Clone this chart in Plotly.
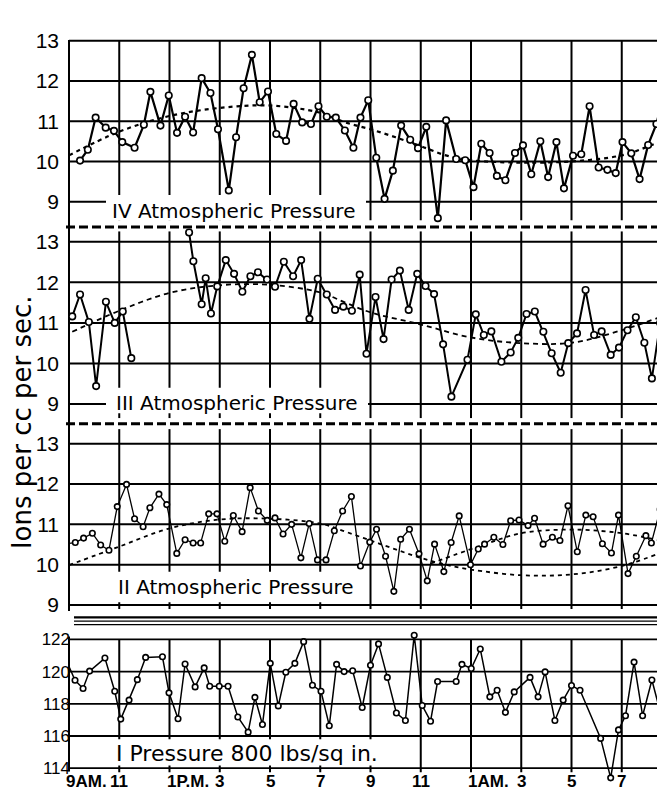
import plotly.graph_objects as go

# ---------------- data ----------------
HOUR_TICKS = [9, 11, 13, 15, 17, 19, 21, 23, 25, 27, 29, 31, 33]
HOUR_LABELS = ["9AM.", "11", "1P.M.", "3", "5", "7", "9", "11", "1AM.", "3", "5", "7", "9"]

ION_TICKS = [9, 10, 11, 12, 13]
ION_TICK_LABELS = ["9", "10", "11", "12", "13"]
PRESSURE_TICKS = [114, 116, 118, 120, 122]
PRESSURE_TICK_LABELS = ["114", "116", "118", "120", "122"]

Y_TITLE = "Ions per cc per sec."
LABEL_IV = "IV Atmospheric Pressure"
LABEL_III = "III Atmospheric Pressure"
LABEL_II = "II Atmospheric Pressure"
LABEL_I = "I Pressure 800 lbs/sq in."

# Panel IV
t4 = [9.44, 9.75, 10.06, 10.46, 10.79, 11.12, 11.61, 11.98, 12.24, 12.64, 12.97, 13.30, 13.62, 13.94,
      14.28, 14.63, 14.93, 15.36, 15.65, 15.95, 16.28, 16.59, 16.92, 17.25, 17.64, 17.94, 18.28, 18.63,
      18.93, 19.26, 19.62, 19.98, 20.32, 20.60, 20.91, 21.23, 21.56, 21.89, 22.22, 22.58, 22.89, 23.22,
      23.68, 24.01, 24.41, 24.77, 25.10, 25.41, 25.74, 26.03, 26.37, 26.75, 27.07, 27.40, 27.76, 28.07,
      28.40, 28.70, 29.06, 29.39, 29.72, 30.08, 30.43, 30.76, 31.03, 31.38, 31.71, 32.05, 32.38, 32.69,
      33.02]
v4 = [10.02, 10.29, 11.09, 10.84, 10.76, 10.48, 10.34, 10.91, 11.73, 10.89, 11.64, 10.71, 11.11, 10.72,
      12.07, 11.70, 10.80, 9.28, 10.60, 11.82, 12.65, 11.47, 11.74, 10.68, 10.51, 11.43, 10.97, 10.93,
      11.37, 11.11, 11.09, 10.77, 10.34, 11.09, 11.52, 10.09, 9.07, 9.77, 10.89, 10.54, 10.33, 10.86,
      8.59, 11.02, 10.06, 10.03, 9.36, 10.44, 10.21, 9.64, 9.53, 10.21, 10.40, 9.68, 10.50, 9.61,
      10.48, 9.33, 10.14, 10.18, 11.37, 9.85, 9.79, 9.71, 10.48, 10.20, 9.56, 10.41, 10.93, 11.72,
      11.21]
trend4_t = [9.0, 11.0, 13.0, 15.0, 17.0, 19.0, 20.0, 21.0, 22.0, 23.0, 24.0, 25.0, 27.0, 29.0, 31.0, 32.0, 33.04]
trend4_v = [10.15, 10.74, 11.13, 11.33, 11.39, 11.21, 10.97, 10.80, 10.60, 10.38, 10.15, 10.03, 9.97, 10.00, 10.15, 10.36, 10.64]

# Panel III (gap in the record around 12-13.5 h)
t3 = [9.13, 9.44, 9.79, 10.08, 10.47, 10.82, 11.14, 11.48, None, 13.78, 13.95, 14.28, 14.44, 14.65,
      14.90, 15.24, 15.57, 15.90, 16.22, 16.52, 16.88, 17.20, 17.55, 17.92, 18.24, 18.57, 18.90, 19.26,
      19.59, 19.92, 20.26, 20.57, 20.84, 21.20, 21.52, 21.84, 22.17, 22.52, 22.86, 23.19, 23.53, 23.89,
      24.22, 24.86, 25.19, 25.51, 25.81, 26.21, 26.58, 26.88, 27.21, 27.54, 27.88, 28.21, 28.57, 28.87,
      29.22, 29.56, 29.90, 30.20, 30.56, 30.89, 31.23, 31.56, 31.90, 32.20, 32.53, 32.89]
v3 = [11.16, 11.70, 11.02, 9.44, 11.52, 11.00, 11.28, 10.13, None, 13.23, 12.52, 11.46, 12.10, 11.23,
      11.90, 12.55, 12.21, 11.77, 12.15, 12.25, 12.07, 11.89, 12.51, 12.15, 12.55, 11.10, 12.09, 11.70,
      11.32, 11.40, 11.30, 12.19, 10.24, 11.64, 10.60, 12.07, 12.29, 11.32, 12.21, 11.91, 11.71, 10.47,
      9.18, 10.09, 11.21, 10.70, 10.79, 10.04, 10.27, 10.63, 11.22, 11.28, 10.78, 10.25, 9.77, 10.50,
      10.74, 11.81, 10.70, 10.79, 10.21, 10.39, 10.82, 11.14, 10.51, 9.63, 11.00, 10.55]
trend3_t = [9.13, 11.0, 13.0, 15.0, 17.0, 19.0, 20.0, 21.0, 23.0, 25.0, 27.0, 29.0, 31.0, 33.04]
trend3_v = [10.78, 11.30, 11.74, 11.93, 11.94, 11.75, 11.50, 11.26, 10.96, 10.64, 10.50, 10.51, 10.82, 11.26]

# Panel II
t2 = [8.91, 9.25, 9.58, 9.93, 10.26, 10.59, 10.92, 11.29, 11.61, 11.95, 12.22, 12.58, 12.89, 13.29,
      13.62, 13.94, 14.24, 14.56, 14.89, 15.20, 15.54, 15.89, 16.21, 16.54, 16.89, 17.20, 17.52, 17.86,
      18.23, 18.56, 18.89, 19.23, 19.56, 19.89, 20.24, 20.60, 20.97, 21.24, 21.60, 21.93, 22.20, 22.55,
      22.93, 23.26, 23.55, 23.92, 24.21, 24.53, 24.98, 25.29, 25.54, 25.91, 26.27, 26.58, 26.91, 27.27,
      27.53, 27.87, 28.24, 28.54, 28.86, 29.23, 29.57, 29.86, 30.23, 30.59, 30.87, 31.25, 31.58, 31.96,
      32.18, 32.53, 32.93]
v2 = [10.52, 10.55, 10.66, 10.78, 10.49, 10.36, 11.44, 11.99, 11.14, 10.94, 11.41, 11.75, 11.49, 10.28,
      10.62, 10.54, 10.54, 11.26, 11.26, 10.58, 11.22, 10.82, 11.91, 11.33, 11.10, 11.16, 10.76, 11.00,
      10.17, 11.02, 10.12, 10.12, 10.84, 11.33, 11.69, 9.97, 10.56, 10.88, 10.21, 9.34, 10.63, 10.88,
      10.27, 9.60, 10.51, 9.83, 10.55, 11.21, 10.00, 10.39, 10.51, 10.68, 10.50, 11.09, 11.11, 10.97,
      11.15, 10.51, 10.68, 10.60, 11.46, 10.32, 11.23, 11.19, 10.52, 10.29, 11.23, 9.78, 10.21, 10.72,
      10.54, 11.37, 10.55]
trend2a_t = [9.0, 11.0, 13.0, 15.0, 17.0, 19.0, 20.0, 21.0, 22.0, 23.0, 24.0, 25.0, 27.0, 29.0, 31.0, 33.04]
trend2a_v = [9.99, 10.45, 10.90, 11.12, 11.14, 11.02, 10.82, 10.60, 10.38, 10.17, 10.00, 9.88, 9.74, 9.76, 9.97, 10.41]
trend2b_t = [23.4, 25.3, 27.0, 29.0, 31.0, 33.04]
trend2b_v = [10.03, 10.45, 10.78, 10.87, 10.78, 10.53]

# Panel I
t1 = [8.87, 9.24, 9.56, 9.82, 10.43, 10.82, 11.06, 11.39, 11.72, 12.05, 12.72, 12.98, 13.34, 13.62,
      14.02, 14.38, 14.60, 14.98, 15.33, 15.72, 16.13, 16.40, 16.70, 17.01, 17.33, 17.63, 17.99, 18.34,
      18.69, 19.03, 19.36, 19.65, 19.95, 20.29, 20.67, 21.00, 21.32, 21.67, 22.03, 22.39, 22.74, 23.06,
      23.39, 23.67, 24.41, 24.64, 25.01, 25.37, 25.75, 26.04, 26.37, 26.72, 27.35, 27.67, 27.95, 28.34,
      28.67, 29.00, 29.34, 30.16, 30.56, 30.87, 31.15, 31.49, 31.83, 32.20, 32.56, 32.86]
v1 = [120.78, 119.46, 118.95, 120.03, 120.84, 118.78, 117.05, 118.23, 119.50, 120.88, 120.92, 118.68,
      117.07, 120.47, 119.05, 120.23, 119.09, 119.09, 119.09, 117.18, 116.24, 118.40, 116.71, 120.51,
      117.87, 119.96, 120.51, 121.86, 119.15, 118.78, 116.64, 120.45, 120.00, 120.05, 117.77, 120.39,
      121.72, 119.64, 117.43, 116.96, 122.26, 117.89, 116.92, 119.38, 119.38, 120.45, 120.19, 121.40,
      118.43, 118.84, 117.47, 118.74, 119.64, 118.43, 119.98, 116.96, 118.23, 119.14, 118.84, 115.85,
      113.40, 116.38, 117.26, 120.59, 117.26, 119.48, 117.32, 120.99]

# ---------------- geometry helpers ----------------
W, H = 665, 791
ML = 61
X_RANGE = [9.0, 33.04]

PANELS = {
    "y4": dict(top=21.2, bottom=207.0, rng=[8.53, 13.05]),
    "y3": dict(top=218.0, bottom=409.1, rng=[8.645, 13.26]),
    "y2": dict(top=420.15, bottom=604.1, rng=[8.9, 13.36]),
    "y": dict(top=626.8, bottom=778.2, rng=[113.3, 122.5]),
}


def fx(q):
    return (q - ML) / (W - ML)


def fy(p):
    return 1 - p / H


def tx(q):
    return X_RANGE[0] + (q - ML) / (W - ML) * (X_RANGE[1] - X_RANGE[0])


def vy(ax, p):
    P = PANELS[ax]
    lo, hi = P["rng"]
    return hi - (p - P["top"]) / (P["bottom"] - P["top"]) * (hi - lo)


BLACK = "black"
NARROW = "Liberation Sans, Arial, sans-serif"
SANS = "DejaVu Sans, sans-serif"

fig = go.Figure()


def data_trace(t, v, ax, lw, ms):
    return go.Scatter(
        x=t, y=v, xaxis="x", yaxis=ax, mode="lines+markers",
        line=dict(color=BLACK, width=lw),
        marker=dict(symbol="circle", size=ms, color="white", line=dict(color=BLACK, width=1.6)),
        cliponaxis=False, connectgaps=False, showlegend=False, hoverinfo="skip",
    )


def trend_trace(t, v, ax, lw, dash):
    return go.Scatter(
        x=t, y=v, xaxis="x", yaxis=ax, mode="lines",
        line=dict(color=BLACK, width=lw, dash=dash, shape="spline"),
        showlegend=False, hoverinfo="skip",
    )


fig.add_trace(trend_trace(trend4_t, trend4_v, "y4", 2.2, "4px,4px"))
fig.add_trace(data_trace(t4, v4, "y4", 2.2, 6.5))
fig.add_trace(trend_trace(trend3_t, trend3_v, "y3", 1.8, "5px,4px"))
fig.add_trace(data_trace(t3, v3, "y3", 2.0, 6.5))
fig.add_trace(trend_trace(trend2a_t, trend2a_v, "y2", 1.8, "4px,4px"))
fig.add_trace(trend_trace(trend2b_t, trend2b_v, "y2", 1.8, "4px,4px"))
fig.add_trace(data_trace(t2, v2, "y2", 1.3, 5.5))
fig.add_trace(data_trace(t1, v1, "y", 1.5, 5.5))

# ---------------- grid, masks, separators ----------------
shapes = []
panel_specs = [
    # axis, tick values, vertical-line extent, mask pixel box (x0, x1, y0, y1), grid width
    ("y4", ION_TICKS, (8.53, 13.0), (98, 358, 181, 208), 2),
    ("y3", ION_TICKS, (8.645, 13.26), (98, 360, 378, 404), 2),
    ("y2", ION_TICKS, (8.9, 13.36), (98, 358, 566, 597), 2),
    ("y", PRESSURE_TICKS, (113.75, 122.0), (98, 386, 737, 764), 1.8),
]
for ax, ticks, (vb, vt), (mx0, mx1, my0, my1), gw in panel_specs:
    for t in HOUR_TICKS[1:]:
        shapes.append(dict(type="line", xref="x", yref=ax, x0=t, x1=t, y0=vb, y1=vt,
                           line=dict(color=BLACK, width=2), layer="below"))
    for val in ticks:
        shapes.append(dict(type="line", xref="x", yref=ax, x0=X_RANGE[0], x1=X_RANGE[1], y0=val, y1=val,
                           line=dict(color=BLACK, width=gw), layer="below"))
    shapes.append(dict(type="rect", xref="x", yref=ax, x0=tx(mx0), x1=tx(mx1),
                       y0=vy(ax, my1), y1=vy(ax, my0), fillcolor="white",
                       line=dict(width=0), layer="below"))

# left axis line
shapes.append(dict(type="line", xref="paper", yref="paper", x0=0, x1=0, y0=fy(606), y1=fy(22.5),
                   line=dict(color=BLACK, width=2), layer="below"))
shapes.append(dict(type="line", xref="paper", yref="paper", x0=0, x1=0, y0=fy(770), y1=fy(632),
                   line=dict(color=BLACK, width=2), layer="below"))
# heavy dashed separators
for yp in (213.5, 414.7):
    shapes.append(dict(type="line", xref="paper", yref="paper", x0=fx(58), x1=1.0, y0=fy(yp), y1=fy(yp),
                       line=dict(color=BLACK, width=3, dash="9px,4px"), layer="below"))
# triple rule above panel I
for yp, w in ((612.6, 2.2), (616.3, 1.3), (620.0, 1.3)):
    shapes.append(dict(type="line", xref="paper", yref="paper", x0=fx(66), x1=1.0, y0=fy(yp), y1=fy(yp),
                       line=dict(color=BLACK, width=w), layer="below"))

# ---------------- annotations ----------------
ann = []
ann.append(dict(text=Y_TITLE, xref="paper", yref="paper", x=fx(14), y=fy(413), textangle=-90,
                showarrow=False, xanchor="center", yanchor="middle",
                font=dict(family=SANS, size=26, color=BLACK)))
for txt, xp, yp, sz in ((LABEL_IV, 102, 197, 20), (LABEL_III, 106, 393, 20),
                        (LABEL_II, 108, 582, 20), (LABEL_I, 106, 752, 22)):
    ann.append(dict(text=txt, xref="paper", yref="paper", x=fx(xp), y=fy(yp), showarrow=False,
                    xanchor="left", yanchor="middle", font=dict(family=SANS, size=sz, color=BLACK)))
for t, lab in zip(HOUR_TICKS, HOUR_LABELS):
    has_suffix = any(c.isalpha() for c in lab)
    ann.append(dict(text="<b>" + lab + "</b>", xref="x", yref="paper", x=t, y=fy(780), showarrow=False,
                    xanchor="left" if has_suffix else "center", xshift=-5 if has_suffix else 0,
                    yanchor="middle", font=dict(family=NARROW, size=17, color=BLACK)))


def yax(ax, ticks, labels, size, standoff):
    P = PANELS[ax]
    return dict(domain=[fy(P["bottom"]), fy(P["top"])], range=P["rng"], anchor="x",
                showgrid=False, zeroline=False, showline=False, ticks="",
                tickmode="array", tickvals=ticks, ticktext=labels,
                tickfont=dict(family=NARROW, size=size, color=BLACK),
                ticklabelstandoff=standoff, fixedrange=True)


fig.update_layout(
    width=W, height=H,
    margin=dict(l=ML, r=0, t=0, b=0, pad=0),
    paper_bgcolor="white", plot_bgcolor="rgba(0,0,0,0)",
    showlegend=False,
    xaxis=dict(range=X_RANGE, visible=False, anchor="y", domain=[0, 1], fixedrange=True),
    yaxis=yax("y", PRESSURE_TICKS, PRESSURE_TICK_LABELS, 17, -2),
    yaxis2=yax("y2", ION_TICKS, ION_TICK_LABELS, 21, 9),
    yaxis3=yax("y3", ION_TICKS, ION_TICK_LABELS, 21, 9),
    yaxis4=yax("y4", ION_TICKS, ION_TICK_LABELS, 21, 9),
    shapes=shapes,
    annotations=ann,
)

fig.write_html("out.html")
